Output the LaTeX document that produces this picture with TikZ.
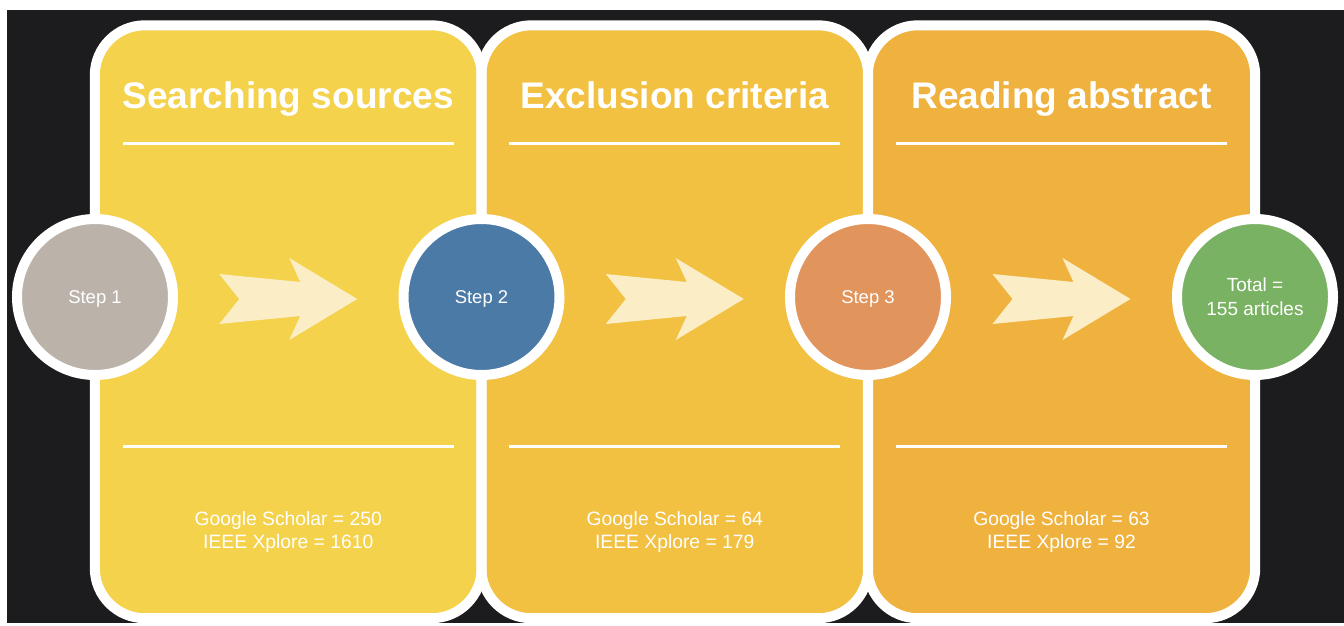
\documentclass[tikz,border=0pt]{standalone}
\usepackage{fontspec}
\setmainfont{Liberation Sans}
\definecolor{bgc}{HTML}{1C1B1D}
\definecolor{pa}{HTML}{F4D24C}
\definecolor{pb}{HTML}{F2C142}
\definecolor{pc}{HTML}{F0B23E}
\definecolor{sa}{HTML}{BBB3AA}
\definecolor{sb}{HTML}{4C7AA6}
\definecolor{sc}{HTML}{E1945B}
\definecolor{sd}{HTML}{7AB263}
\definecolor{arrc}{HTML}{FBEEC6}
\begin{document}
\begin{tikzpicture}[x=1pt,y=-1pt,
  panel/.style={rectangle, minimum width=386.5pt, minimum height=592.5pt, inner sep=0pt, rounded corners=50pt},
  rim/.style={draw=white, line width=10pt, rounded corners=50pt},
  rule/.style={draw=white, line width=3pt},
  title/.style={anchor=base, text=white, font=\fontsize{37}{44}\selectfont\bfseries, inner sep=0pt},
  count/.style={anchor=base, text=white, font=\fontsize{19.3}{23}\selectfont, inner sep=0pt},
  stepc/.style={circle, draw=white, line width=10pt, minimum size=156pt, inner sep=0pt, text=white,
    font=\fontsize{18.5}{22}\selectfont, text height=13.2pt, text depth=0pt},
  chev/.style={fill=arrc}]
\useasboundingbox (0,0) rectangle (1344,625);
\fill[white] (0,0) rectangle (1344,625);
\fill[bgc] (7,10) rectangle (1344,623);
% panels
\node[panel, fill=pa] (p1) at (288.25,321.75) {};
\node[panel, fill=pb] (p2) at (674.75,321.75) {};
\node[panel, fill=pc, minimum width=387pt] (p3) at (1061.5,321.75) {};
\draw[rim] (p1.south west) rectangle (p1.north east);
\draw[rim] (p2.south west) rectangle (p2.north east);
\draw[rim] (p3.south west) rectangle (p3.north east);
% titles
\node[title] (t1) at (288.25,108) {Searching sources};
\node[title] (t2) at (674.75,108) {Exclusion criteria};
\node[title] (t3) at (1061.5,108) {Reading abstract};
% rules
\foreach \c in {288.25,674.75,1061.5} {
  \draw[rule] (\c-165.5,143) -- (\c+165.5,143);
  \draw[rule] (\c-165.5,446) -- (\c+165.5,446);
}
% counts
\node[count] (g1) at (288.25,525) {Google Scholar = 250};
\node[count] (x1) at (288.25,548) {IEEE Xplore = 1610};
\node[count] (g2) at (674.75,525) {Google Scholar = 64};
\node[count] (x2) at (674.75,548) {IEEE Xplore = 179};
\node[count] (g3) at (1061.5,525) {Google Scholar = 63};
\node[count] (x3) at (1061.5,548) {IEEE Xplore = 92};
% chevron arrows
\foreach \x in {219.25,605.75,992.5} {
  \fill[chev, shift={(\x,299)}] (0,-25) -- (20,0) -- (0,25) -- (81,17) -- (70,41) -- (138,0)
    -- (70,-41) -- (81,-17) -- cycle;
}
% step circles
\node[stepc, fill=sa] (s1) at (95,297) {Step 1};
\node[stepc, fill=sb] (s2) at (481.5,297) {Step 2};
\node[stepc, fill=sc] (s3) at (868,297) {Step 3};
\node[stepc, fill=sd, align=center, text height=37.6pt, text depth=0pt, font=\fontsize{19}{24}\selectfont] (s4) at (1255,297) {Total =\\155 articles};
\end{tikzpicture}
\end{document}
